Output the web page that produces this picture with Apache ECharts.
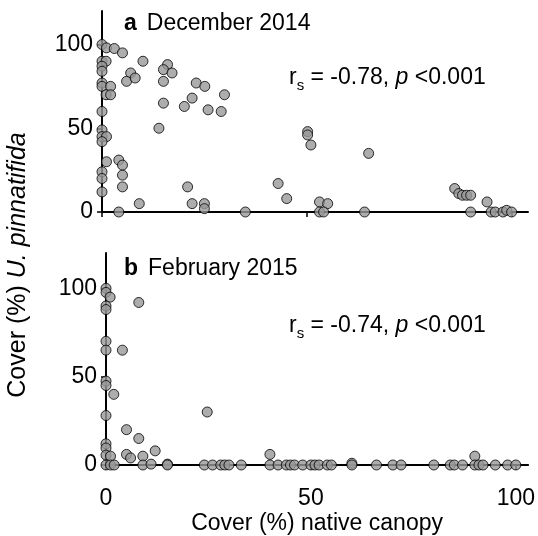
<!DOCTYPE html>
<html>
<head>
  <meta charset="utf-8">
  <script src="https://cdn.jsdelivr.net/npm/echarts@6/dist/echarts.min.js"></script>
</head>
<body style="margin: 0; background: #fff">
  <div id="main" style="width: 538px; height: 536px"></div>
  <script>
    // panel a - December 2014: native canopy cover (%) vs U. pinnatifida cover (%)
    var decCanopy = [0, 1.1, 3, 5, 0, 1, 0, 0, 10, 7, 6, 8.1, 16, 15, 17.1, 15,
      0, 0, 2.1, 1, 2.1, 23, 25.1, 15, 22, 20.1, 25.9, 29.9, 29.1, 0,
      0, 0, 1.1, 0, 13.9, 1.1, 4.1, 5, 0, 5, 0, 5, 0,
      9.1, 4.1, 20.9, 22, 25, 25, 35, 50.2, 50.2, 51, 65.1, 43, 45.1,
      53.1, 55.1, 53.1, 54.1, 64.1, 86.1, 87.1, 88, 89, 90, 90, 94, 95, 96, 97.9, 98.8, 100];
    var decUnd = [100, 98, 97.6, 95, 90, 90, 87, 84, 90, 83, 78, 80, 88, 85, 83, 78,
      77, 75, 75, 70, 70, 77, 75, 65, 68, 63, 61, 70, 60, 60,
      49, 45, 45, 42, 50, 30, 31, 28, 24, 22, 20, 15, 12,
      5, 0, 15, 5, 5, 2, 0, 48, 46, 40, 35, 17, 8,
      6, 5, 0, 0, 0, 14, 11, 10, 10, 10, 0, 6, 0, 0, 0, 1, 0];

    // panel b - February 2015
    var febCanopy = [0, 0, 1, 0, 0, 8, 0, 0, 4, 0, 0, 1.9, 0, 24.7,
      5, 8, 0, 0, 0, 1.1, 5, 6, 9, 12, 0, 1.1, 2, 9, 11, 15, 15,
      24, 26, 28, 29, 30, 33, 40, 40, 42, 44, 45, 46, 48, 50, 51, 52, 54, 55, 60, 60,
      66, 70, 72, 80, 84, 85, 87, 90, 90, 91, 92, 95, 98, 100];
    var febUnd = [100, 97.7, 95, 90, 88, 92, 70, 65, 65, 47.5, 45, 40, 28, 30,
      20, 15, 12, 9.6, 5.6, 5, 6, 4, 5, 8, 0, 0, 0, 0, 0.5, 0.5, 0,
      0, 0, 0, 0, 0, 0, 6, 0, 0, 0, 0, 0, 0, 0, 0, 0, 0, 0, 1, 0,
      0, 0, 0, 0, 0, 0, 0, 5, 0, 0, 0, 0, 0, 0];

    var xTicks = [0, 50, 100];
    var yTicks = [0, 50, 100];
    var statsA = ['-0.78', '<0.001'];
    var statsB = ['-0.74', '<0.001'];

    function pairs(xs, ys) {
      return xs.map(function (x, i) { return [x, ys[i]]; });
    }

    var FONT = 'Liberation Sans';
    var FS = 23;
    var axisLine = { lineStyle: { color: '#000', width: 2 } };
    var tick = { inside: false, length: 5, customValues: xTicks, lineStyle: { color: '#000', width: 1.5 } };
    function frag(extra) {
      return Object.assign({ fontSize: FS, fontFamily: FONT, fontWeight: 'normal', color: '#000' }, extra || {});
    }
    var richStat = {
      it: frag({ fontStyle: 'italic', lineHeight: 30 }),
      n: frag({ lineHeight: 30 }),
      sub: frag({ fontSize: 15, lineHeight: 16, verticalAlign: 'bottom' })
    };
    var richHead = { b: frag({ fontWeight: 'bold' }), n: frag() };
    function statText(s) {
      return '{n|r}{sub|s}{n| = ' + s[0] + ', }{it|p}{n| ' + s[1] + '}';
    }

    var chart = echarts.init(document.getElementById('main'));
    var dot = { color: '#999999', borderColor: '#000', borderWidth: 1 };

    chart.setOption({
      animation: false,
      textStyle: { fontFamily: FONT },
      grid: [
        { left: 102, top: 11, width: 426, height: 201 },
        { left: 106, top: 253, width: 424, height: 213 }
      ],
      xAxis: [
        {
          type: 'value', gridIndex: 0, min: 0, max: 104,
          axisLine: axisLine, axisTick: tick,
          axisLabel: { show: false }, splitLine: { show: false }
        },
        {
          type: 'value', gridIndex: 1, min: 0, max: 103,
          axisLine: axisLine, axisTick: tick,
          axisLabel: { customValues: xTicks, fontSize: FS, color: '#000', margin: 22 },
          splitLine: { show: false },
          name: 'Cover (%) native canopy', nameLocation: 'middle', nameGap: 47,
          nameTextStyle: { fontSize: FS, color: '#000' }
        }
      ],
      yAxis: [0, 1].map(function (g) {
        return {
          type: 'value', gridIndex: g, min: 0, max: 120,
          axisLine: axisLine,
          axisTick: { inside: false, length: 5, customValues: yTicks, lineStyle: { color: '#000', width: 1.5 } },
          axisLabel: { customValues: yTicks, fontSize: FS, color: '#000', margin: 9 },
          splitLine: { show: false }
        };
      }),
      title: [
        { left: 119, top: 7, text: '{b|a}  {n|December 2014}', textStyle: { rich: richHead } },
        { left: 119, top: 252, text: '{b|b}  {n|February 2015}', textStyle: { rich: richHead } },
        { left: 284, top: 58, text: statText(statsA), textStyle: { rich: richStat } },
        { left: 284, top: 306, text: statText(statsB), textStyle: { rich: richStat } }
      ],
      graphic: [{
        type: 'text',
        x: 18, y: 265,
        rotation: Math.PI / 2,
        style: {
          text: '{n|Cover (%) }{it|U. pinnatifida}',
          align: 'center', verticalAlign: 'middle',
          rich: {
            n: { fontSize: 25, fontFamily: FONT, fill: '#000' },
            it: { fontSize: 25, fontFamily: FONT, fontStyle: 'italic', fill: '#000' }
          }
        }
      }],
      series: [
        {
          type: 'scatter', xAxisIndex: 0, yAxisIndex: 0,
          symbolSize: 10, itemStyle: dot,
          data: pairs(decCanopy, decUnd)
        },
        {
          type: 'scatter', xAxisIndex: 1, yAxisIndex: 1,
          symbolSize: 10, itemStyle: dot,
          data: pairs(febCanopy, febUnd)
        }
      ]
    });
  </script>
</body>
</html>
